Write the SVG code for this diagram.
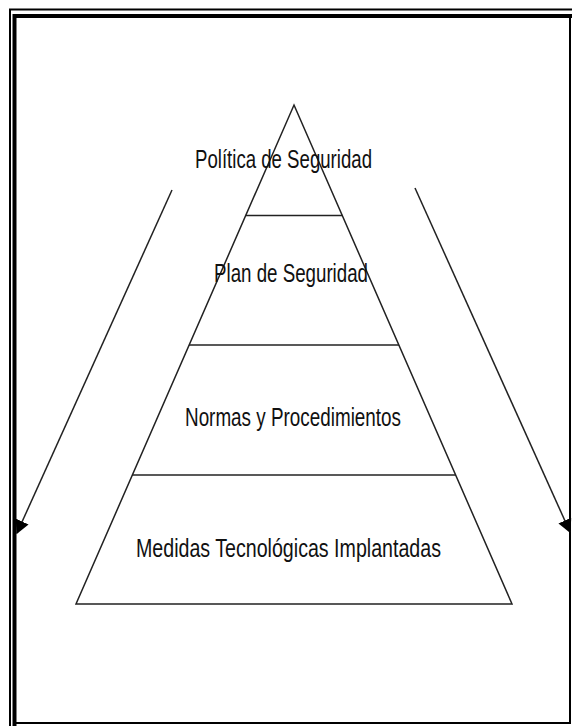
<svg xmlns="http://www.w3.org/2000/svg" width="572" height="726" viewBox="0 0 572 726">
<defs>
<style>
.frame{fill:none;stroke:#000}
.line{stroke:#222;stroke-width:1.5;fill:none}
.lbl{font-family:"Liberation Sans",Arial,sans-serif;font-size:26px;fill:#111}
</style>
<marker id="ah" viewBox="0 0 10 10" refX="9" refY="5" markerWidth="14" markerHeight="14" markerUnits="userSpaceOnUse" orient="auto">
<path d="M0,0 L10,5 L0,10 z" fill="#000"/>
</marker>
</defs>
<rect width="572" height="726" fill="#fff"/>
<g id="frame">
<path class="frame" stroke-width="2" d="M10,726 V9.5 H572"/>
<path class="frame" stroke-width="4" d="M14.5,726 V16 H572"/>
<path class="frame" stroke-width="2" d="M570,16 V723 H14.5"/>
</g>
<g id="connectors">
<line class="line" x1="172" y1="190" x2="17" y2="533" marker-end="url(#ah)"/>
<line class="line" x1="415" y1="188" x2="570" y2="532" marker-end="url(#ah)"/>
</g>
<g id="pyramid">
<path class="line" d="M294,105 L512,604 L76,604 Z"/>
<line class="line" x1="245.5" y1="215.5" x2="342.5" y2="215.5"/>
<line class="line" x1="189" y1="345" x2="399" y2="345"/>
<line class="line" x1="132" y1="475" x2="456" y2="475"/>
</g>
<g id="n1"><text class="lbl" x="195" y="168" textLength="177" lengthAdjust="spacingAndGlyphs">Política de Seguridad</text></g>
<g id="n2"><text class="lbl" x="214" y="282" textLength="154" lengthAdjust="spacingAndGlyphs">Plan de Seguridad</text></g>
<g id="n3"><text class="lbl" x="185" y="426" textLength="216" lengthAdjust="spacingAndGlyphs">Normas y Procedimientos</text></g>
<g id="n4"><text class="lbl" x="136" y="557" textLength="305" lengthAdjust="spacingAndGlyphs">Medidas Tecnológicas Implantadas</text></g>
</svg>
